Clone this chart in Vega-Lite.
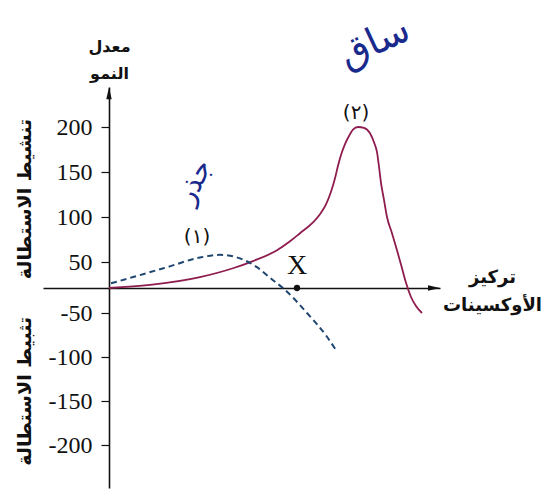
{
  "$schema": "https://vega.github.io/schema/vega-lite/v6.json",
  "width": 397,
  "height": 401,
  "autosize": {"type": "none"},
  "padding": {"left": 43, "top": 87, "right": 109, "bottom": 7},
  "background": "white",
  "config": {
    "view": {"stroke": null},
    "axisY": {"labelFont": "Liberation Serif", "labelFontSize": 24, "labelPadding": 9, "labelColor": "#111111"},
    "axisLeft": {"labelFont": "Liberation Serif", "labelFontSize": 24, "labelPadding": 9, "labelColor": "#111111"}
  },
  "datasets": {
    "stemCurve": [
      {"x": 0, "y": 0}, {"x": 41, "y": 6}, {"x": 91, "y": 21}, {"x": 124, "y": 38},
      {"x": 144, "y": 51}, {"x": 168, "y": 63}, {"x": 181, "y": 73}, {"x": 191, "y": 82},
      {"x": 204, "y": 94}, {"x": 211, "y": 103}, {"x": 217, "y": 114}, {"x": 222, "y": 128},
      {"x": 226, "y": 143}, {"x": 229, "y": 157}, {"x": 232, "y": 169}, {"x": 236, "y": 181},
      {"x": 240, "y": 190}, {"x": 244, "y": 197}, {"x": 249, "y": 200}, {"x": 255, "y": 199},
      {"x": 261, "y": 193}, {"x": 265, "y": 183}, {"x": 268, "y": 172}, {"x": 270, "y": 156},
      {"x": 272, "y": 138}, {"x": 275, "y": 119}, {"x": 278, "y": 100}, {"x": 283, "y": 82},
      {"x": 288, "y": 63}, {"x": 293, "y": 38}, {"x": 297, "y": 10}, {"x": 302, "y": -18},
      {"x": 307, "y": -36}, {"x": 313, "y": -50}
    ],
    "rootCurve": [
      {"x": 2, "y": 9}, {"x": 24, "y": 21}, {"x": 58, "y": 40}, {"x": 91, "y": 55},
      {"x": 111, "y": 58}, {"x": 131, "y": 54}, {"x": 148, "y": 40}, {"x": 164, "y": 15},
      {"x": 174, "y": 0}, {"x": 198, "y": -50}, {"x": 218, "y": -77}, {"x": 228, "y": -94}
    ]
  },
  "encoding": {
    "x": {
      "field": "x", "type": "quantitative",
      "scale": {"domain": [-66, 331], "nice": false, "zero": false},
      "axis": {
        "orient": "bottom", "offset": -200, "domain": true, "domainColor": "#111111",
        "domainWidth": 1.6, "ticks": false, "labels": false, "grid": false,
        "title": ["تركيز", "الأوكسينات"], "titleX": 449, "titleY": -6, "titleAngle": 0,
        "titleAlign": "center", "titleBaseline": "alphabetic", "titleFont": "DejaVu Sans",
        "titleFontSize": 18, "titleFontWeight": "bold", "titleColor": "#111111", "titleLineHeight": 28
      }
    },
    "y": {
      "field": "y", "type": "quantitative",
      "scale": {"domain": [-249, -200, -50, 0, 50, 200, 244], "range": [401, 358, 226, 201, 175, 40, 0], "nice": false, "zero": false},
      "axis": {
        "orient": "left", "offset": -66, "values": [-200, -150, -100, -50, 50, 100, 150, 200],
        "labelExpr": "'' + datum.value",
        "domain": true, "domainColor": "#111111", "domainWidth": 1.6,
        "ticks": true, "tickColor": "#111111", "tickSize": 8, "tickWidth": 1.2,
        "labelFont": "Liberation Serif", "labelFontSize": 24, "labelColor": "#111111", "labelPadding": 9,
        "grid": false,
        "title": ["معدل", "النمو"], "titleAngle": 0, "titleX": 0, "titleY": -36,
        "titleAlign": "center", "titleBaseline": "alphabetic", "titleFont": "DejaVu Sans",
        "titleFontSize": 16, "titleFontWeight": "bold", "titleColor": "#111111", "titleLineHeight": 27
      }
    }
  },
  "layer": [
    {
      "data": {"name": "stemCurve"},
      "mark": {"type": "line", "color": "#8e1c4e", "strokeWidth": 1.8, "interpolate": "monotone"}
    },
    {
      "data": {"name": "rootCurve"},
      "mark": {"type": "line", "color": "#1f4670", "strokeWidth": 2, "strokeDash": [6, 4], "interpolate": "monotone"}
    },
    {
      "data": {"values": [{"x": 0, "y": 237}]},
      "mark": {"type": "point", "shape": "M0,-1L-0.45,1L0.45,1Z", "filled": true, "color": "#111111", "size": 144, "opacity": 1}
    },
    {
      "data": {"values": [{"x": 325, "y": 0}]},
      "mark": {"type": "point", "shape": "M1,0L-1,-0.45L-1,0.45Z", "filled": true, "color": "#111111", "size": 144, "opacity": 1}
    },
    {
      "data": {"values": [{"x": 188, "y": 0}]},
      "mark": {"type": "point", "shape": "circle", "filled": true, "color": "#111111", "size": 40, "opacity": 1}
    },
    {
      "data": {"values": [{"x": 188, "y": 42, "text": "X"}]},
      "mark": {"type": "text", "font": "Liberation Serif", "fontSize": 28, "color": "#111111", "align": "center", "baseline": "middle"},
      "encoding": {"text": {"field": "text", "type": "nominal"}}
    },
    {
      "data": {"values": [{"x": 88, "y": 78, "text": "(١)"}, {"x": 247, "y": 215, "text": "(٢)"}]},
      "mark": {"type": "text", "font": "DejaVu Sans", "fontSize": 20, "color": "#111111", "align": "center", "baseline": "middle"},
      "encoding": {"text": {"field": "text", "type": "nominal"}}
    },
    {
      "data": {"values": [{"x": -84, "y": 120, "text": "تنشيط الاستطالة"}, {"x": -84, "y": -139, "text": "تثبيط الاستطالة"}]},
      "mark": {"type": "text", "font": "DejaVu Sans", "fontSize": 19, "fontWeight": "bold", "color": "#111111", "align": "center", "baseline": "middle", "angle": 270},
      "encoding": {"text": {"field": "text", "type": "nominal"}}
    },
    {
      "data": {"values": [{"x": 86, "y": 139, "text": "جذر"}]},
      "mark": {"type": "text", "font": "DejaVu Sans", "fontSize": 28, "color": "#1a2a8c", "align": "center", "baseline": "middle", "angle": -63},
      "encoding": {"text": {"field": "text", "type": "nominal"}}
    },
    {
      "data": {"values": [{"x": 266, "y": 292, "text": "ساق"}]},
      "mark": {"type": "text", "font": "DejaVu Sans", "fontSize": 38, "color": "#1a2a8c", "align": "center", "baseline": "middle", "angle": -25},
      "encoding": {"text": {"field": "text", "type": "nominal"}}
    }
  ]
}
